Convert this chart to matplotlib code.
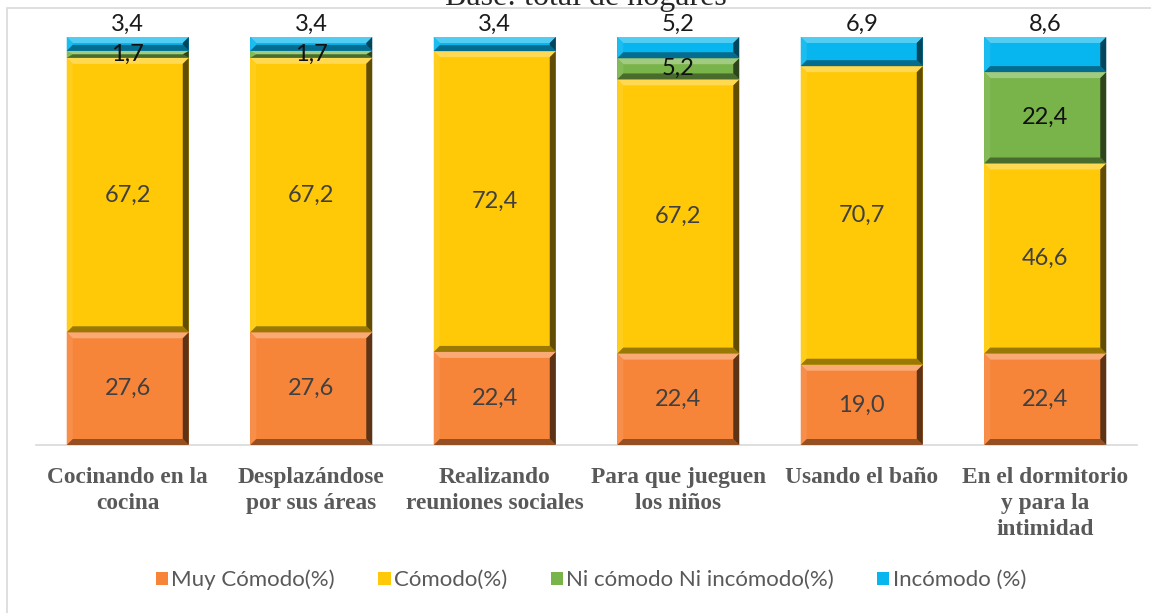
import numpy as np
import matplotlib
matplotlib.use("Agg")
import matplotlib.pyplot as plt
from matplotlib.patches import Polygon, Rectangle
from matplotlib.colors import to_rgb

categories = [
    "Cocinando en la\ncocina",
    "Desplazándose\npor sus áreas",
    "Realizando\nreuniones sociales",
    "Para que jueguen\nlos niños",
    "Usando el baño",
    "En el dormitorio\ny para la\nintimidad",
]
series_names = ["Muy Cómodo(%)", "Cómodo(%)", "Ni cómodo Ni incómodo(%)", "Incómodo (%)"]
muy_comodo = [27.6, 27.6, 22.4, 22.4, 19.0, 22.4]
comodo = [67.2, 67.2, 72.4, 67.2, 70.7, 46.6]
ni_comodo = [1.7, 1.7, 0.0, 5.2, 0.0, 22.4]
incomodo = [3.4, 3.4, 3.4, 5.2, 6.9, 8.6]

colors = ["#F6853A", "#FFC907", "#79B44A", "#07B6EE"]
label_colors = ["#404040", "#404040", "#111111", "#1a1a1a"]

W, H = 1151, 613
fig = plt.figure(figsize=(W / 100, H / 100), dpi=100)
fig.patches.append(Rectangle((7 / W, -0.05), 1.2, 1 - 8 / H + 0.05,
                             transform=fig.transFigure, fill=False,
                             edgecolor="#d9d9d9", linewidth=1.2))
fig.text(586 / W, 1 - 5 / H, "Base: total de hogares", ha="center", va="baseline",
         fontsize=23, family="Liberation Serif", color="#262626")

ax = fig.add_axes([36 / W, 1 - 445 / H, (1137 - 36) / W, (445 - 37) / H])
data = np.array([muy_comodo, comodo, ni_comodo, incomodo], dtype=float)
totals = data.sum(axis=0)
shares = data / totals * 100  # 100% stacked

x = np.arange(len(categories))
bar_w = 0.665
ax.set_xlim(-0.5, len(categories) - 0.5)
ax.set_ylim(0, 100)

# bevel size in data units (about 6 px)
px_x = 1.0 / 183.5
px_y = 100.0 / 408

def mix(c, other, t):
    c = np.array(to_rgb(c)); o = np.array(to_rgb(other))
    return tuple(c * (1 - t) + o * t)

def bevel(x0, y0, w, h, color):
    bx = min(6 * px_x, w / 2)
    by = min(6 * px_y, h / 2)
    x1, y1 = x0 + w, y0 + h
    top = [(x0, y1), (x1, y1), (x1 - bx, y1 - by), (x0 + bx, y1 - by)]
    bottom = [(x0, y0), (x1, y0), (x1 - bx, y0 + by), (x0 + bx, y0 + by)]
    left = [(x0, y0), (x0, y1), (x0 + bx, y1 - by), (x0 + bx, y0 + by)]
    right = [(x1, y0), (x1, y1), (x1 - bx, y1 - by), (x1 - bx, y0 + by)]
    for pts, shade in [(top, mix(color, "white", 0.30)),
                       (left, mix(color, "white", 0.08)),
                       (bottom, mix(color, "black", 0.40)),
                       (right, mix(color, "black", 0.62))]:
        ax.add_patch(Polygon(pts, closed=True, facecolor=shade, edgecolor="none", zorder=3))

bottoms = np.zeros(len(categories))
for i, (name, col) in enumerate(zip(series_names, colors)):
    bars = ax.bar(x, shares[i], bar_w, bottom=bottoms, color=col, label=name,
                  edgecolor="none", zorder=2)
    for j, rect in enumerate(bars):
        val = data[i, j]
        if val <= 0:
            continue
        bevel(rect.get_x(), rect.get_y(), rect.get_width(), rect.get_height(), col)
        txt = f"{val:.1f}".replace(".", ",")
        if i == 3:
            ax.text(x[j], 100 + 0.6, txt, ha="center", va="bottom", fontsize=17,
                    family="Lato", color=label_colors[i], zorder=5)
        else:
            ax.text(x[j], bottoms[j] + shares[i, j] / 2, txt, ha="center", va="center",
                    fontsize=17, family="Lato", color=label_colors[i], zorder=5)
    bottoms += shares[i]

for s in ["top", "right", "left"]:
    ax.spines[s].set_visible(False)
ax.spines["bottom"].set_color("#d9d9d9")
ax.spines["bottom"].set_linewidth(1.2)
ax.set_yticks([])
ax.set_xticks(x)
ax.set_xticklabels(categories, fontsize=16.8, family="Liberation Serif",
                   fontweight="bold", color="#595959", linespacing=1.3)
ax.tick_params(axis="x", length=0, pad=16)
ax.patch.set_alpha(0)

leg = fig.legend(loc="center", bbox_to_anchor=(591 / W, 1 - 580 / H), ncol=4,
                 frameon=False, handlelength=0.55, handleheight=0.55, handletextpad=0.15,
                 columnspacing=1.95, prop={"family": "Lato", "size": 16})
for t in leg.get_texts():
    t.set_color("#595959")

fig.savefig("out.png", dpi=100)
